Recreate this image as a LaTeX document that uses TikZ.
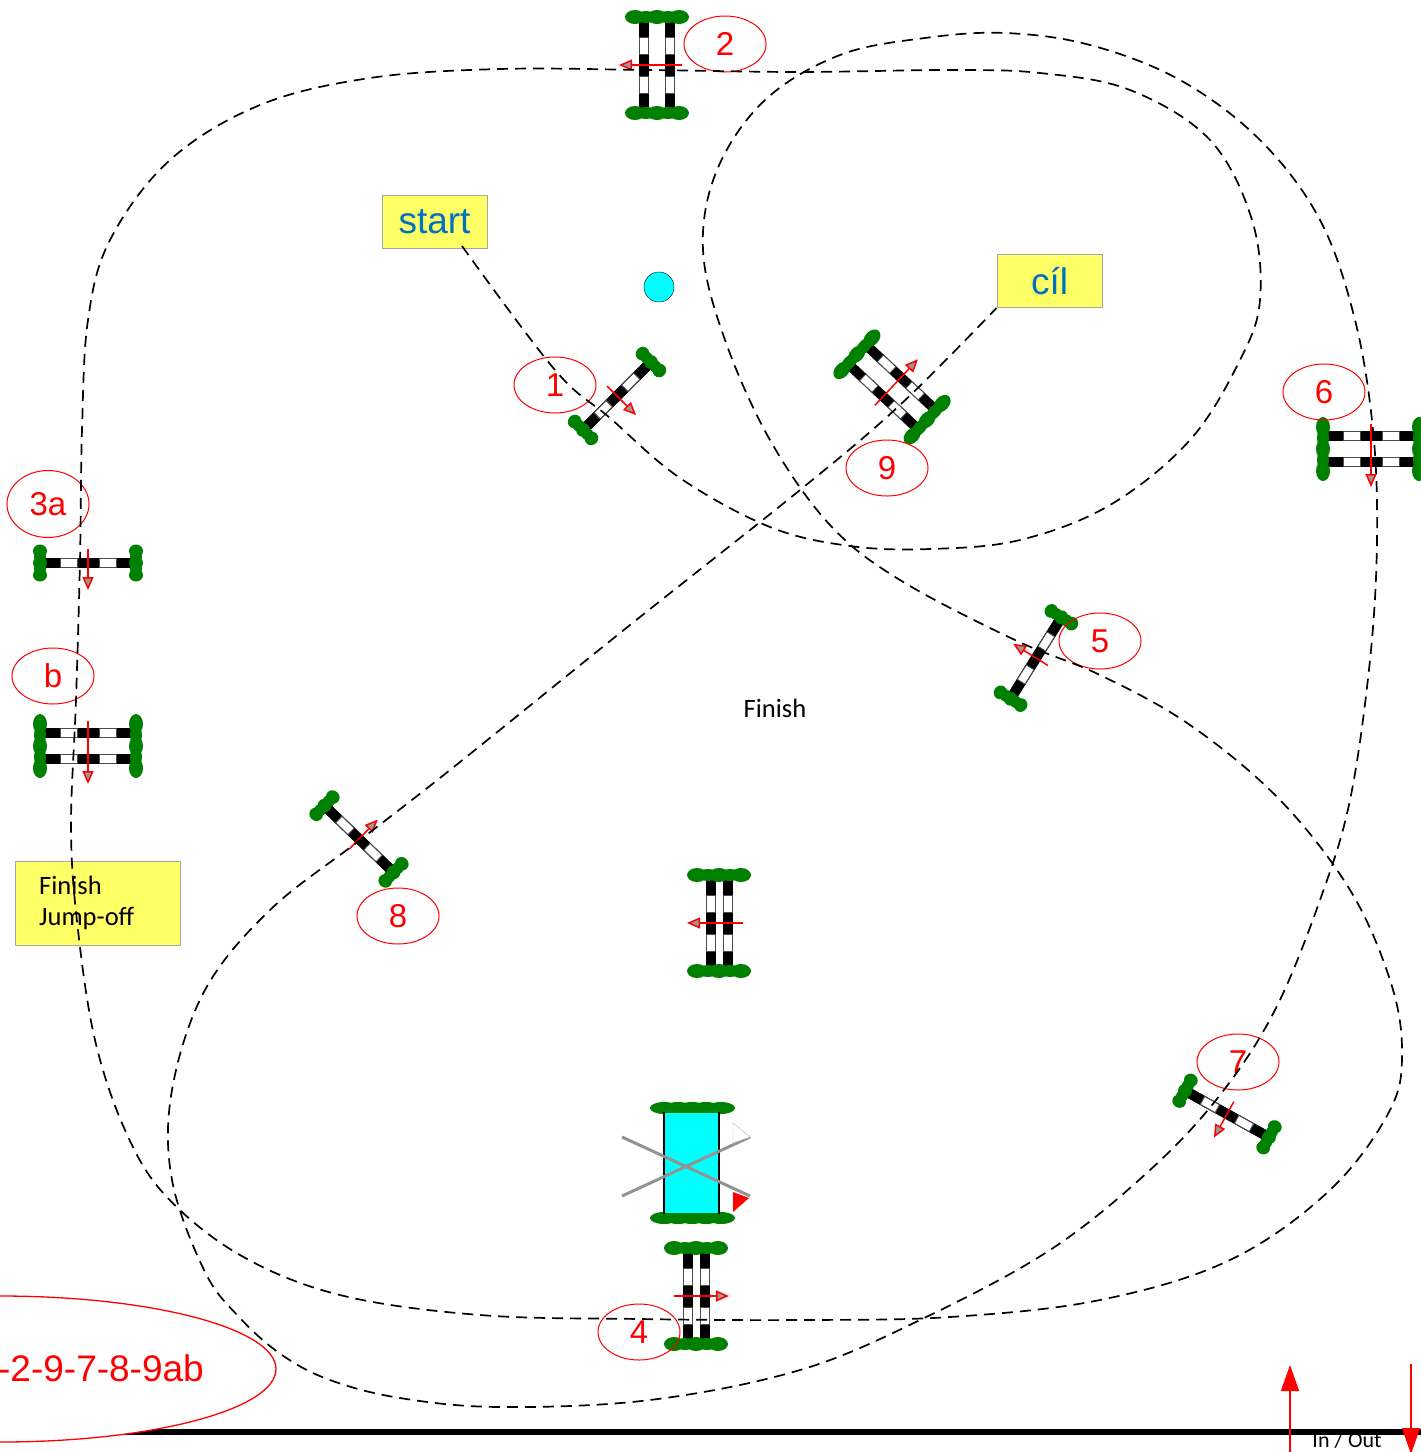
\documentclass[tikz,border=0pt]{standalone}
\usepackage{fontspec}
\setmainfont{Liberation Sans}
\newfontfamily\notefont{Carlito}
\usetikzlibrary{arrows.meta,positioning,shapes.geometric}
\definecolor{treegreen}{RGB}{0,128,0}
\definecolor{labelblue}{RGB}{0,112,192}
\definecolor{notefill}{RGB}{255,255,102}
\definecolor{watercyan}{RGB}{0,255,255}
\tikzset{
	course/.style={dash pattern=on 11pt off 7pt, line width=1.7pt},
	numring/.style={draw=red, line width=1pt, ellipse, minimum width=82pt, minimum height=56pt, inner sep=0pt, text=red, font=\fontsize{33}{36}\selectfont},
	notebox/.style={draw=black!35, fill=notefill, line width=1pt, minimum height=53pt, minimum width=105pt, inner sep=0pt, text=labelblue, font=\fontsize{37}{40}\selectfont},
	dirarrow/.style={red, line width=1.5pt, -{Triangle[length=13pt,width=11pt,fill=gray!80]}},
	bigarrow/.style={red, line width=1.5pt, -{Triangle[length=26pt,width=18pt,fill=red]}},
}
% #1 x, #2 y, #3 angle, #4 spacing of the two bars, #5 back of arrow, #6 tip of arrow
\newcommand{\fence}[6]{
	\begin{scope}[shift={(#1,#2)}, rotate=#3]
		\pgfmathsetmacro{\treeoff}{#4>0 ? 22 : 12}
		\pgfmathsetmacro{\treelen}{#4>0 ? 10 : 6.5}
		\foreach \b in {-#4/2, #4/2} {
			\fill[black] (-44,\b-5) rectangle (44,\b+5);
			\draw[fill=white, draw=black!70, line width=0.9pt] (-28,\b-4.5) rectangle (-11,\b+4.5);
			\draw[fill=white, draw=black!70, line width=0.9pt] (11,\b-4.5) rectangle (28,\b+4.5);
		}
		\foreach \s in {-48, 48} {
			\foreach \t/\w in {-1/7, -0.5/6, 0/7, 0.5/6, 1/7} {
				\fill[treegreen] (\s,\t*\treeoff) ellipse ({\w} and {\treelen});
			}
		}
		\draw[dirarrow] (0,#5) -- (0,#6);
	\end{scope}
}
\begin{document}
\begin{tikzpicture}[x=1pt, y=-1pt]
	\useasboundingbox (0,0) rectangle (1421,1452);

	% ground line and the way in and out
	\draw[line width=6pt] (120,1432) -- (1421,1432);
	\node[font=\notefont\fontsize{22}{24}\selectfont] (inout) at (1347,1440) {In / Out};
	\coordinate (inlow) at (1290,1452);
	\coordinate (intip) at (1290,1365);
	\coordinate (outhigh) at (1411,1364);
	\coordinate (outtip) at (1411,1454);
	\draw[bigarrow] (inlow) -- (intip);
	\draw[bigarrow] (outhigh) -- (outtip);

	\draw[red, fill=white, line width=1.3pt] (0,1369) ellipse (276 and 73);
	\node[anchor=east, inner sep=0pt, text=red, font=\fontsize{37}{40}\selectfont] (order) at (204,1368) {-2-9-7-8-9ab};

	% fences
	\fence{617}{396}{45}{0}{-14}{27}
	\fence{657}{65}{-90}{26}{-25}{38}
	\fence{1371}{449}{0}{26}{-25}{38}
	\fence{1036}{658}{238}{0}{-14}{27}
	\fence{1227}{1114}{-29}{0}{-14}{27}
	\fence{359}{839}{136}{0}{-14}{27}
	\fence{892}{387}{137}{26}{-25}{38}
	\fence{88}{563}{0}{0}{-14}{27}
	\fence{88}{746}{0}{26}{-25}{38}
	\fence{719}{923}{-90}{17}{-24}{32}
	\fence{696}{1296}{90}{17}{-22}{33}

	% water
	\foreach \x in {664, 678, 692, 706, 721} {
		\fill[treegreen] (\x,1108) ellipse (14 and 6);
		\fill[treegreen] (\x,1218) ellipse (14 and 6);
	}
	\fill[watercyan] (664.5,1113) rectangle (718.5,1213);
	\draw[line width=1.3pt] (664,1112) -- (664,1214) (719,1214) -- (719,1112);
	\draw[gray!85, line width=3pt] (622,1137) -- (750,1196) (622,1196) -- (750,1137);
	\draw[black!30, fill=white] (733,1123) -- (733,1143) -- (750,1137) -- cycle;
	\fill[red] (733,1212) -- (733,1192) -- (749,1198) -- cycle;

	\node[draw, fill=watercyan, circle, minimum size=30pt, inner sep=0pt] (mark) at (659,287) {};

	% labels
	\node[numring] (n1) at (555,385) {1};
	\node[numring] (n2) at (725,44) {2};
	\node[numring, minimum height=67pt] (n3a) at (48,504) {3a};
	\node[numring] (nb) at (53,676) {b};
	\node[numring] (n4) at (639,1332) {4};
	\node[numring] (n5) at (1100,641) {5};
	\node[numring] (n6) at (1324,392) {6};
	\node[numring] (n7) at (1238,1062) {7};
	\node[numring] (n8) at (398,916) {8};
	\node[numring] (n9) at (887,468) {9};

	\node[notebox] (start) at (434.5,222) {start};
	\node[notebox] (cil) at (1049.5,281) {cíl};
	\node[notebox, minimum width=165pt, minimum height=84pt] (jumpoff) at (97.5,903) {};
	\node[anchor=west, font=\notefont\fontsize{26.5}{31.5}\selectfont, align=left, inner sep=0pt] (jumpofftext) at (39,903) {Finish\\Jump-off};
	\node[font=\notefont\fontsize{26.5}{28}\selectfont] (finish) at (775,708) {Finish};

	% the course
	\coordinate (coursestart) at (462,246);
	\draw[course] plot[smooth, tension=0.6] coordinates {(coursestart) (555,370) (610,418) (680,478) (770,527) (850,546) (930,549) (1020,540) (1110,505) (1190,440) (1240,360) (1260,300) (1252,220) (1210,140) (1130,90) (1040,73) (950,70) (800,72) (650,70) (500,69) (370,78) (260,105) (170,160) (110,240) (88,320) (82,430) (80,560) (76,700) (71,830) (78,930) (95,1040) (125,1130) (165,1195) (240,1255) (340,1295) (480,1315) (640,1319) (800,1320) (950,1317) (1100,1300) (1230,1260) (1330,1190) (1390,1110) (1402,1050) (1390,980) (1350,890) (1280,800) (1190,725) (1100,675) (1015,640) (900,580) (830,525) (770,440) (725,340) (703,250) (717,170) (765,100) (840,55) (925,38) (1005,33) (1090,45) (1180,80) (1260,140) (1320,220) (1355,320) (1373,430) (1377,540) (1370,660) (1350,800) (1320,900) (1275,1010) (1220,1095) (1150,1170) (1050,1250) (920,1320) (800,1370) (650,1400) (500,1407) (400,1398) (330,1380) (282,1355) (240,1318) (205,1272) (172,1180) (172,1090) (205,990) (270,910) (360,840) (450,770) (630,625) (800,490) (900,405) (cil.south west)};
\end{tikzpicture}
\end{document}
